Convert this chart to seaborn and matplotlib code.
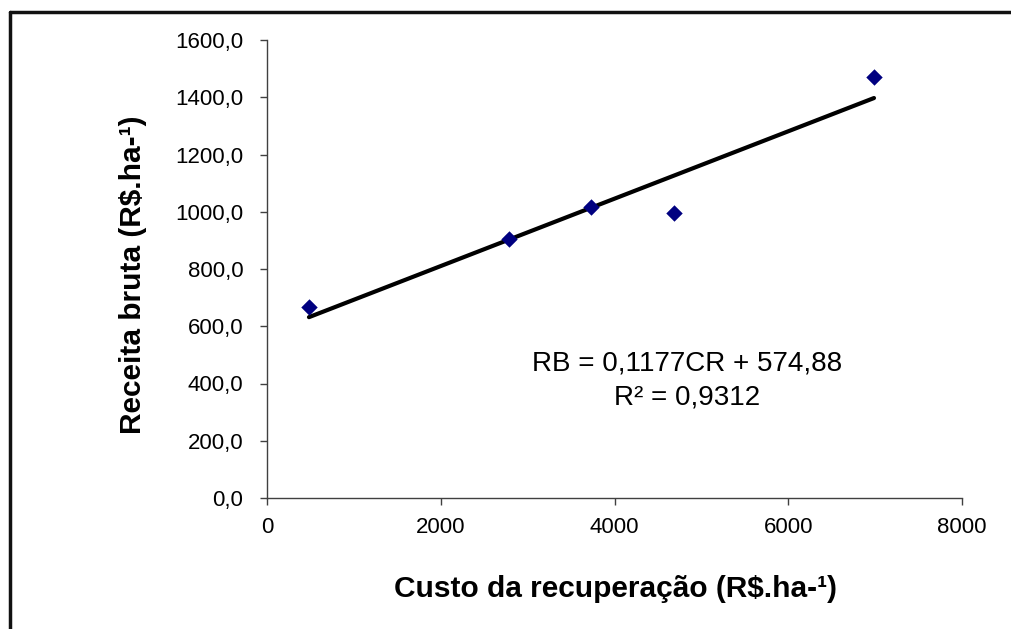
import matplotlib
matplotlib.use("Agg")
import matplotlib.pyplot as plt
from matplotlib.lines import Line2D
import seaborn as sns
import numpy as np
import pandas as pd

# Data
custo = [483, 2786, 3730, 4685, 6987]
receita = [667, 905, 1017, 996, 1471]
slope = 0.1177
intercept = 574.88
r2_text = "R² = 0,9312"
eq_text = "RB = 0,1177CR + 574,88"

x_ticks = [0, 2000, 4000, 6000, 8000]
x_tick_labels = ["0", "2000", "4000", "6000", "8000"]
y_ticks = [0, 200, 400, 600, 800, 1000, 1200, 1400, 1600]
y_tick_labels = ["0,0", "200,0", "400,0", "600,0", "800,0", "1000,0", "1200,0", "1400,0", "1600,0"]

x_label = "Custo da recuperação (R$.ha-¹)"
y_label = "Receita bruta (R$.ha-¹)"

sns.set_style("white")
plt.rcParams['font.family'] = ['Liberation Sans', 'DejaVu Sans']
plt.rcParams['text.color'] = 'black'

fig = plt.figure(figsize=(10.12, 6.29), dpi=100)
ax = fig.add_axes([267/1012, 1-498/629, (962-267)/1012, (498-40)/629])

df = pd.DataFrame({"custo": custo, "receita": receita})
trend_x = np.array([min(custo), max(custo)])
trend = pd.DataFrame({"x": trend_x, "y": slope*trend_x + intercept})

sns.lineplot(data=trend, x="x", y="y", ax=ax, color="black", lw=3, zorder=2)
sns.scatterplot(data=df, x="custo", y="receita", ax=ax, marker="D", color="#000080",
                s=70, edgecolor="#000080", linewidth=0, zorder=3)

ax.set_xlim(0, 8000)
ax.set_ylim(0, 1600)
ax.set_xticks(x_ticks)
ax.set_xticklabels(x_tick_labels)
ax.set_yticks(y_ticks)
ax.set_yticklabels(y_tick_labels)
ax.tick_params(axis="both", direction="out", length=5, width=1, color="#404040",
               labelsize=16, labelcolor="black", left=True, bottom=True)
ax.tick_params(axis="y", pad=12)
ax.tick_params(axis="x", pad=9)

for s in ["top", "right"]:
    ax.spines[s].set_visible(False)
for s in ["left", "bottom"]:
    ax.spines[s].set_color("#404040")
    ax.spines[s].set_linewidth(1)

ax.set_xlabel("")
ax.set_ylabel("")
fig.text(615/1012, 1-597/629, x_label, ha="center", va="baseline", fontsize=21.5,
         fontweight="bold", color="black")
fig.text(133/1012, 1-275/629, y_label, ha="center", va="center", rotation=90, fontsize=21.5,
         fontweight="bold", color="black")

ax.text(687/1012, 1-370/629, eq_text, transform=fig.transFigure, ha="center", va="baseline",
        fontsize=20, color="black")
ax.text(687/1012, 1-405/629, r2_text, transform=fig.transFigure, ha="center", va="baseline",
        fontsize=20, color="black")

# outer frame (left and top edges visible)
fig.add_artist(Line2D([10/1012, 10/1012], [0, 1-12/629], transform=fig.transFigure, color="#111111", lw=2.5))
fig.add_artist(Line2D([10/1012, 1], [1-12/629, 1-12/629], transform=fig.transFigure, color="#111111", lw=2.5))

fig.savefig("out.png", dpi=100)
